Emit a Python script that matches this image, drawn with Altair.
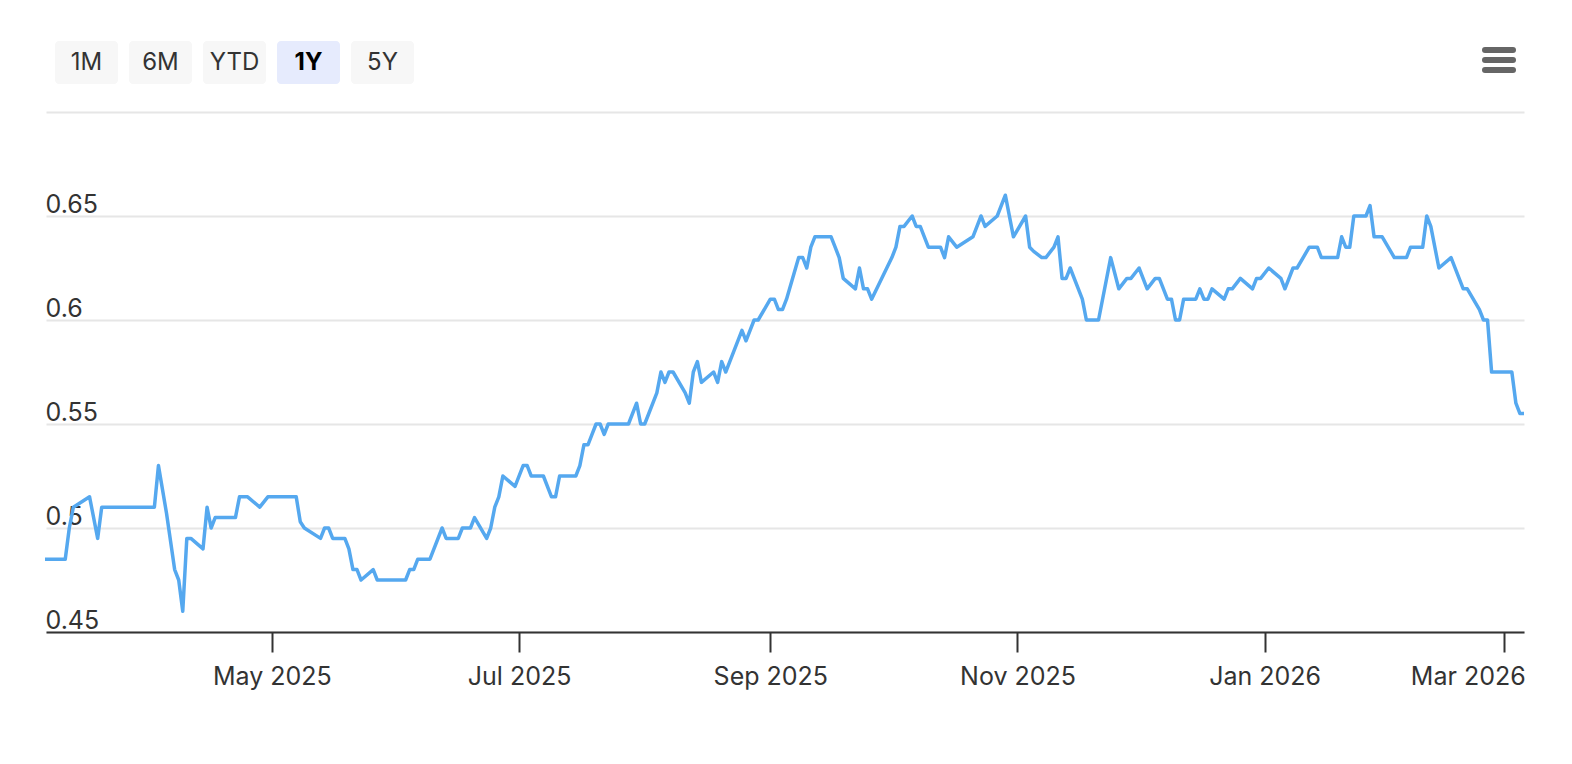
import altair as alt
import pandas as pd

# ---- data -------------------------------------------------------------
START = "2025-03-06"          # first trading day shown (1Y range)
DAYS = [0, 5, 6, 7, 11, 13, 14, 27, 28, 30, 32, 33, 34, 35, 36, 39, 40, 41, 42, 47,
        48, 50, 53, 55, 62, 63, 64, 68, 69, 70, 71, 74, 75, 76, 77, 78, 81, 82, 89, 90,
        91, 92, 95, 98, 99, 102, 103, 105, 106, 109, 110, 111, 112, 113, 116, 118, 119, 120, 123, 125,
        126, 127, 131, 132, 133, 134, 135, 136, 137, 138, 139, 144, 146, 147, 148, 151, 152, 153, 154, 155,
        158, 159, 160, 161, 162, 165, 166, 167, 168, 169, 172, 173, 175, 176, 179, 180, 181, 182, 183, 186,
        187, 188, 189, 190, 194, 195, 196, 197, 200, 201, 202, 203, 204, 209, 210, 211, 212, 214, 215, 216,
        218, 221, 222, 223, 225, 229, 231, 232, 235, 237, 239, 242, 243, 244, 246, 247, 249, 250, 251, 252,
        253, 256, 257, 260, 263, 265, 267, 268, 270, 272, 274, 275, 277, 278, 279, 280, 281, 284, 285, 286,
        287, 288, 291, 292, 293, 295, 298, 299, 300, 302, 305, 306, 308, 309, 312, 314, 315, 319, 320, 321,
        322, 323, 326, 327, 328, 330, 333, 336, 337, 340, 341, 342, 344, 347, 350, 351, 354, 355, 356, 357,
        362, 363, 364, 365]
PRICE = [0.485, 0.485, 0.50, 0.51, 0.515, 0.495, 0.51, 0.51, 0.53, 0.507, 0.48, 0.475, 0.46, 0.495, 0.495, 0.49, 0.51, 0.50, 0.505, 0.505,
         0.515, 0.515, 0.51, 0.515, 0.515, 0.503, 0.50, 0.495, 0.50, 0.50, 0.495, 0.495, 0.49, 0.48, 0.48, 0.475, 0.48, 0.475, 0.475, 0.48,
         0.48, 0.485, 0.485, 0.50, 0.495, 0.495, 0.50, 0.50, 0.505, 0.495, 0.50, 0.51, 0.515, 0.525, 0.52, 0.53, 0.53, 0.525, 0.525, 0.515,
         0.515, 0.525, 0.525, 0.53, 0.54, 0.54, 0.545, 0.55, 0.55, 0.545, 0.55, 0.55, 0.56, 0.55, 0.55, 0.565, 0.575, 0.57, 0.575, 0.575,
         0.565, 0.56, 0.575, 0.58, 0.57, 0.575, 0.57, 0.58, 0.575, 0.58, 0.595, 0.59, 0.60, 0.60, 0.61, 0.61, 0.605, 0.605, 0.61, 0.63,
         0.63, 0.625, 0.635, 0.64, 0.64, 0.635, 0.63, 0.62, 0.615, 0.625, 0.615, 0.615, 0.61, 0.63, 0.635, 0.645, 0.645, 0.65, 0.645, 0.645,
         0.635, 0.635, 0.63, 0.64, 0.635, 0.64, 0.65, 0.645, 0.65, 0.66, 0.64, 0.65, 0.635, 0.633, 0.63, 0.63, 0.635, 0.64, 0.62, 0.62,
         0.625, 0.61, 0.60, 0.60, 0.63, 0.615, 0.62, 0.62, 0.625, 0.615, 0.62, 0.62, 0.61, 0.61, 0.60, 0.60, 0.61, 0.61, 0.615, 0.61,
         0.61, 0.615, 0.61, 0.615, 0.615, 0.62, 0.615, 0.62, 0.62, 0.625, 0.62, 0.615, 0.625, 0.625, 0.635, 0.635, 0.63, 0.63, 0.64, 0.635,
         0.635, 0.65, 0.65, 0.655, 0.64, 0.64, 0.63, 0.63, 0.635, 0.635, 0.65, 0.645, 0.625, 0.63, 0.615, 0.615, 0.605, 0.60, 0.60, 0.575,
         0.575, 0.56, 0.555, 0.555]

BUTTONS = ["1M", "6M", "YTD", "1Y", "5Y"]
SELECTED = "1Y"
Y_TICKS = [0.45, 0.5, 0.55, 0.6, 0.65, 0.7]
X_TICKS = [(2025, 5), (2025, 7), (2025, 9), (2025, 11), (2026, 1), (2026, 3)]

df = pd.DataFrame({
    "date": pd.Timestamp(START) + pd.to_timedelta(DAYS, unit="D"),
    "price": PRICE,
})

FONT = "Inter"
TXT = "#333333"

line = alt.Chart(df).mark_line(
    color="#55a8ef", strokeWidth=3.5, strokeJoin="round"
).encode(
    x=alt.X(
        "date:T", title=None,
        scale=alt.Scale(domain=[alt.DateTime(year=2025, month=3, date=6, hours=6),
                                alt.DateTime(year=2026, month=3, date=6)], nice=False),
        axis=alt.Axis(values=[alt.DateTime(year=y, month=m, date=1) for y, m in X_TICKS],
                      format="%b %Y", grid=False, domainColor=TXT, domainWidth=2,
                      tickColor=TXT, tickWidth=2, tickSize=20, labelPadding=12,
                      labelFontSize=25, labelColor=TXT, labelFont=FONT,
                      labelOffset={"condition": {"test": "year(datum.value) == 2026 && month(datum.value) == 2",
                                                 "value": -36}, "value": 0},
                      labelOverlap=False, labelFlush=False),
    ),
    y=alt.Y(
        "price:Q", title=None,
        scale=alt.Scale(domain=[0.45, 0.70], nice=False, zero=False),
        axis=alt.Axis(values=Y_TICKS, format="~g",
                      labelExpr="datum.value > 0.69 ? '' : datum.label",
                      domain=False, ticks=False, tickSize=0, grid=True,
                      gridColor="#e6e6e6", gridWidth=2, labelAlign="left",
                      labelBaseline="alphabetic", labelOffset=-4, labelPadding=1,
                      labelFontSize=25, labelColor=TXT, labelFont=FONT),
    ),
)

one = alt.InlineData(values=[{"k": 1}])
layers = [line]
for i, lab in enumerate(BUTTONS):
    x0 = 9 + i * 74
    sel = lab == SELECTED
    layers.append(alt.Chart(one).mark_rect(
        cornerRadius=4, fill="#e6ebfd" if sel else "#f7f7f7"
    ).encode(x=alt.value(x0), x2=alt.value(x0 + 63), y=alt.value(-71), y2=alt.value(-28)))
    layers.append(alt.Chart(one).mark_text(
        font=FONT, fontSize=24, fontWeight="bold" if sel else "normal",
        color="#000000" if sel else TXT, align="center", baseline="middle"
    ).encode(x=alt.value(x0 + 31.5), y=alt.value(-49), text=alt.value(lab)))

for j in range(3):
    layers.append(alt.Chart(one).mark_rule(
        color="#666666", strokeWidth=6, strokeCap="round"
    ).encode(x=alt.value(1439), x2=alt.value(1467), y=alt.value(-62 + 10 * j)))

chart = alt.layer(*layers).properties(
    width=1478, height=520,
    padding={"left": 38, "top": 104, "right": 40, "bottom": 100},
    autosize=alt.AutoSizeParams(type="none"),
    background="white",
).configure_view(stroke=None)

chart.save("out.html", embed_options={"renderer": "svg", "actions": False})
